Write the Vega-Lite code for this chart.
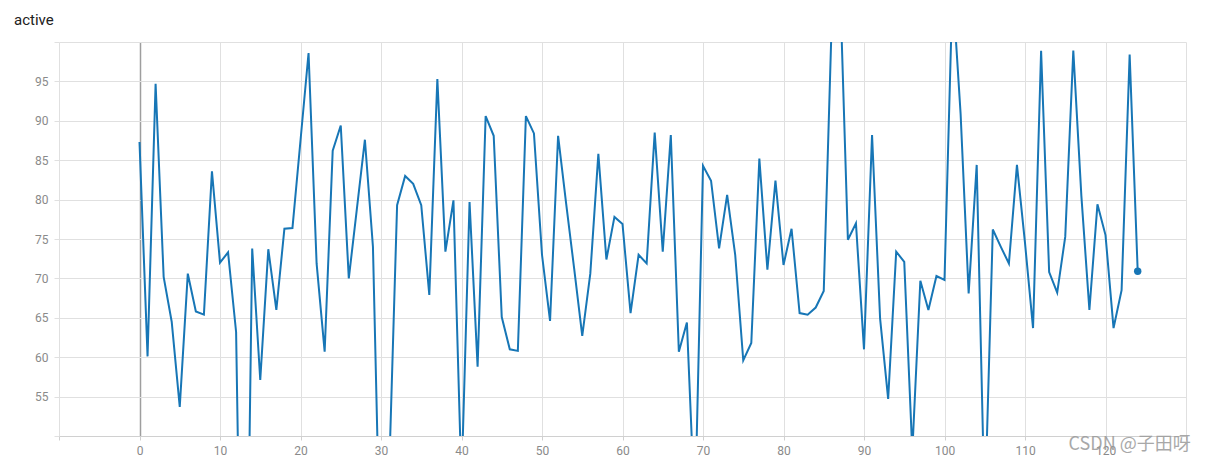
{
  "$schema": "https://vega.github.io/schema/vega-lite/v6.json",
  "width": 1127,
  "height": 394,
  "autosize": {"type": "none"},
  "padding": {"left": 59, "top": 42, "right": 23, "bottom": 26},
  "background": "white",
  "title": {
    "text": "active",
    "anchor": "start",
    "frame": "group",
    "dx": -45,
    "offset": 14,
    "font": "Roboto",
    "fontSize": 15,
    "fontWeight": "normal",
    "color": "#212121"
  },
  "config": {
    "view": {"stroke": null},
    "axis": {
      "labelFont": "Roboto",
      "labelFontSize": 12,
      "labelColor": "#8a8a8a",
      "gridColor": "#e0e0e0",
      "tickColor": "#d0d0d0",
      "domainColor": "#d0d0d0"
    }
  },
  "datasets": {
    "series": [
      {"step": 0, "value": 87.3}, {"step": 1, "value": 60.1}, {"step": 2, "value": 94.7}, {"step": 3, "value": 70.2},
      {"step": 4, "value": 64.5}, {"step": 5, "value": 53.7}, {"step": 6, "value": 70.6}, {"step": 7, "value": 65.8},
      {"step": 8, "value": 65.4}, {"step": 9, "value": 83.6}, {"step": 10, "value": 72.0}, {"step": 11, "value": 73.3},
      {"step": 12, "value": 63.2}, {"step": 13, "value": 0}, {"step": 14, "value": 73.8}, {"step": 15, "value": 57.1},
      {"step": 16, "value": 73.7}, {"step": 17, "value": 66.0}, {"step": 18, "value": 76.3}, {"step": 19, "value": 76.4},
      {"step": 20, "value": 87.5}, {"step": 21, "value": 98.6}, {"step": 22, "value": 71.9}, {"step": 23, "value": 60.7},
      {"step": 24, "value": 86.2}, {"step": 25, "value": 89.4}, {"step": 26, "value": 70.0}, {"step": 27, "value": 78.8},
      {"step": 28, "value": 87.6}, {"step": 29, "value": 74.0}, {"step": 30, "value": 30}, {"step": 31, "value": 45},
      {"step": 32, "value": 79.3}, {"step": 33, "value": 83.0}, {"step": 34, "value": 82.0}, {"step": 35, "value": 79.3},
      {"step": 36, "value": 67.9}, {"step": 37, "value": 95.3}, {"step": 38, "value": 73.4}, {"step": 39, "value": 79.9},
      {"step": 40, "value": 44}, {"step": 41, "value": 79.7}, {"step": 42, "value": 58.8}, {"step": 43, "value": 90.6},
      {"step": 44, "value": 88.1}, {"step": 45, "value": 65.1}, {"step": 46, "value": 61.0}, {"step": 47, "value": 60.8},
      {"step": 48, "value": 90.6}, {"step": 49, "value": 88.4}, {"step": 50, "value": 73.0}, {"step": 51, "value": 64.6},
      {"step": 52, "value": 88.1}, {"step": 53, "value": 79.5}, {"step": 54, "value": 71.2}, {"step": 55, "value": 62.7},
      {"step": 56, "value": 70.6}, {"step": 57, "value": 85.8}, {"step": 58, "value": 72.4}, {"step": 59, "value": 77.8},
      {"step": 60, "value": 76.9}, {"step": 61, "value": 65.6}, {"step": 62, "value": 73.0}, {"step": 63, "value": 71.9},
      {"step": 64, "value": 88.5}, {"step": 65, "value": 73.4}, {"step": 66, "value": 88.2}, {"step": 67, "value": 60.7},
      {"step": 68, "value": 64.4}, {"step": 69, "value": 40}, {"step": 70, "value": 84.3}, {"step": 71, "value": 82.4},
      {"step": 72, "value": 73.8}, {"step": 73, "value": 80.6}, {"step": 74, "value": 73.0}, {"step": 75, "value": 59.6},
      {"step": 76, "value": 61.8}, {"step": 77, "value": 85.2}, {"step": 78, "value": 71.1}, {"step": 79, "value": 82.4},
      {"step": 80, "value": 71.7}, {"step": 81, "value": 76.3}, {"step": 82, "value": 65.6}, {"step": 83, "value": 65.4},
      {"step": 84, "value": 66.3}, {"step": 85, "value": 68.4}, {"step": 86, "value": 103}, {"step": 87, "value": 108},
      {"step": 88, "value": 74.9}, {"step": 89, "value": 77.0}, {"step": 90, "value": 61.0}, {"step": 91, "value": 88.2},
      {"step": 92, "value": 64.9}, {"step": 93, "value": 54.7}, {"step": 94, "value": 73.4}, {"step": 95, "value": 72.1},
      {"step": 96, "value": 48}, {"step": 97, "value": 69.7}, {"step": 98, "value": 66.0}, {"step": 99, "value": 70.3},
      {"step": 100, "value": 69.8}, {"step": 101, "value": 107}, {"step": 102, "value": 90.9}, {"step": 103, "value": 68.1},
      {"step": 104, "value": 84.4}, {"step": 105, "value": 40}, {"step": 106, "value": 76.2}, {"step": 107, "value": 74.0},
      {"step": 108, "value": 71.9}, {"step": 109, "value": 84.4}, {"step": 110, "value": 74.5}, {"step": 111, "value": 63.7},
      {"step": 112, "value": 98.9}, {"step": 113, "value": 70.8}, {"step": 114, "value": 68.2}, {"step": 115, "value": 75.3},
      {"step": 116, "value": 98.9}, {"step": 117, "value": 80.5}, {"step": 118, "value": 66.0}, {"step": 119, "value": 79.4},
      {"step": 120, "value": 75.5}, {"step": 121, "value": 63.7}, {"step": 122, "value": 68.5}, {"step": 123, "value": 98.4},
      {"step": 124, "value": 70.9}
    ],
    "watermark": [{"step": 123, "value": 48.9, "label": "CSDN @子田呀"}]
  },
  "encoding": {
    "x": {
      "field": "step",
      "type": "quantitative",
      "scale": {"domain": [-10, 130], "nice": false, "zero": false},
      "axis": {
        "title": null,
        "values": [-10, 0, 10, 20, 30, 40, 50, 60, 70, 80, 90, 100, 110, 120, 130],
        "labelExpr": "datum.value < 0 || datum.value > 120 ? '' : datum.label",
        "tickSize": 4,
        "labelPadding": 5,
        "labelFlush": false,
        "gridColor": {"condition": {"test": "datum.value === 0", "value": "#9e9e9e"}, "value": "#e0e0e0"},
        "gridWidth": {"condition": {"test": "datum.value === 0", "value": 1.5}, "value": 1}
      }
    },
    "y": {
      "field": "value",
      "type": "quantitative",
      "scale": {"domain": [50, 100], "nice": false, "zero": false},
      "axis": {
        "title": null,
        "values": [50, 55, 60, 65, 70, 75, 80, 85, 90, 95, 100],
        "labelExpr": "datum.value <= 50 || datum.value >= 100 ? '' : datum.label",
        "domain": false,
        "tickSize": 5,
        "tickColor": "#e0e0e0",
        "labelPadding": 6,
        "labelFlush": false
      }
    }
  },
  "layer": [
    {
      "data": {"name": "series"},
      "mark": {"type": "line", "color": "#1776b6", "strokeWidth": 2, "clip": true}
    },
    {
      "data": {"name": "series"},
      "transform": [{"filter": "datum.step === 124"}],
      "mark": {"type": "point", "filled": true, "opacity": 1, "color": "#1776b6", "size": 55}
    },
    {
      "data": {"name": "watermark"},
      "mark": {"type": "text", "clip": false, "font": "Noto Sans CJK SC", "fontSize": 18, "color": "#9a9a9a", "opacity": 0.85, "align": "center", "baseline": "middle"},
      "encoding": {
        "text": {"field": "label", "type": "nominal"}
      }
    }
  ]
}
